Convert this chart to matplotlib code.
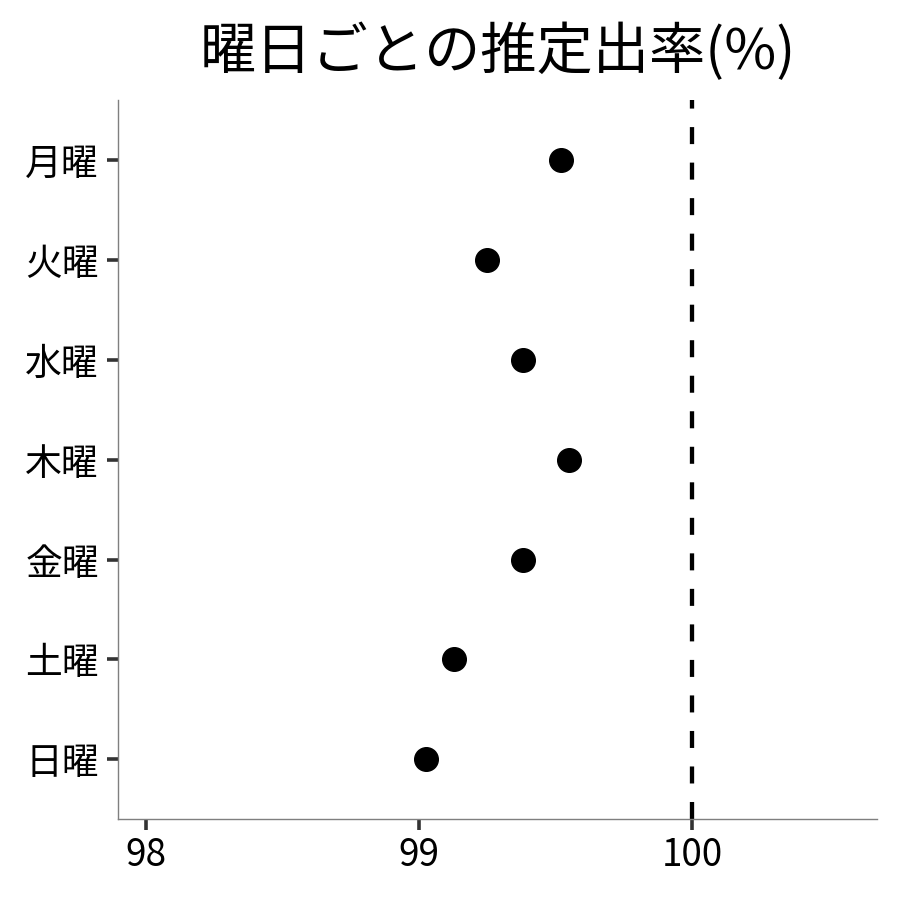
import matplotlib
matplotlib.use("Agg")
import matplotlib.pyplot as plt

plt.rcParams['font.family'] = ['Noto Sans CJK JP', 'DejaVu Sans']

days = ["月曜", "火曜", "水曜", "木曜", "金曜", "土曜", "日曜"]
rates = [99.518, 99.249, 99.379, 99.550, 99.380, 99.129, 99.024]
x_ticks = [98, 99, 100]
ref_line = 100
title = "曜日ごとの推定出率(%)"

fig = plt.figure(figsize=(9, 9), dpi=100)
ax = fig.add_axes([118.3/900, 1-819.3/900, (877-118.3)/900, (819.3-100)/900])

ypos = list(range(len(days)))
ax.plot(rates, ypos, 'o', color='black', markersize=17, zorder=3, linestyle='none')
ax.axvline(ref_line, color='black', linewidth=3.1, linestyle=(0, (3.95, 4.3)), zorder=2)

ax.set_xlim(97.899, 100.676)
ax.set_ylim(len(days) - 1 + 0.6, -0.6)
ax.set_yticks(ypos)
ax.set_yticklabels(days)
ax.set_xticks(x_ticks)
ax.set_xticklabels([str(t) for t in x_ticks])

for s in ['top', 'right']:
    ax.spines[s].set_visible(False)
for s in ['left', 'bottom']:
    ax.spines[s].set_color('#7f7f7f')
    ax.spines[s].set_linewidth(1.0)

ax.tick_params(axis='both', length=8, width=2.6, color='#333333',
               labelsize=26.5, labelcolor='black')
ax.tick_params(axis='x', pad=4)
ax.tick_params(axis='y', pad=6)

ax.set_title(title, fontsize=40.5, pad=22)

fig.savefig("out.png", dpi=100)
